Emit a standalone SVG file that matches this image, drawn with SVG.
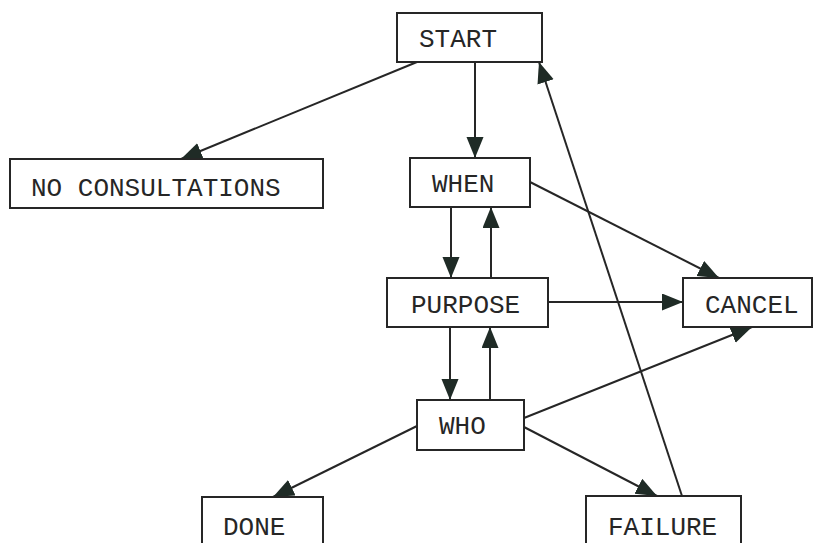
<svg xmlns="http://www.w3.org/2000/svg" width="817" height="543" viewBox="0 0 817 543">
  <style>
    .box { fill: #ffffff; stroke: #262626; stroke-width: 2; }
    .label { font-family: "Liberation Mono", "Courier New", monospace; font-size: 26px; fill: #262626; }
    .edge { fill: none; stroke: #262626; stroke-width: 2; marker-end: url(#arrow); }
  </style>
  <defs>
    <marker id="arrow" markerUnits="userSpaceOnUse" markerWidth="22" markerHeight="18" refX="21" refY="8.5" orient="auto">
      <path d="M0,0 L21,8.5 L0,17 z" fill="#1f2b26"/>
    </marker>
  </defs>
  <rect width="817" height="543" fill="#ffffff"/>

  <g id="connectors">
    <line class="edge" x1="417" y1="62" x2="181" y2="159"/>
    <line class="edge" x1="475" y1="62" x2="475" y2="158"/>
    <line class="edge" x1="451" y1="207" x2="451" y2="278"/>
    <line class="edge" x1="491" y1="278" x2="491" y2="207"/>
    <line class="edge" x1="530" y1="182" x2="719" y2="278"/>
    <line class="edge" x1="548" y1="302" x2="683" y2="302"/>
    <line class="edge" x1="450" y1="327" x2="450" y2="400"/>
    <line class="edge" x1="490" y1="400" x2="490" y2="327"/>
    <line class="edge" x1="524" y1="418" x2="752" y2="327"/>
    <line class="edge" x1="417" y1="426" x2="273" y2="497"/>
    <line class="edge" x1="524" y1="427" x2="657" y2="496"/>
    <line class="edge" x1="682" y1="496" x2="539" y2="62"/>
  </g>

  <g id="start">
    <rect class="box" x="397" y="13" width="145" height="49"/>
    <text class="label" x="419" y="47">START</text>
  </g>
  <g id="no-consultations">
    <rect class="box" x="10" y="159" width="313" height="49"/>
    <text class="label" x="31" y="196">NO CONSULTATIONS</text>
  </g>
  <g id="when">
    <rect class="box" x="410" y="158" width="120" height="49"/>
    <text class="label" x="432" y="192">WHEN</text>
  </g>
  <g id="purpose">
    <rect class="box" x="387" y="278" width="161" height="49"/>
    <text class="label" x="411" y="313">PURPOSE</text>
  </g>
  <g id="cancel">
    <rect class="box" x="683" y="278" width="129" height="49"/>
    <text class="label" x="705" y="313">CANCEL</text>
  </g>
  <g id="who">
    <rect class="box" x="417" y="400" width="107" height="50"/>
    <text class="label" x="439" y="434">WHO</text>
  </g>
  <g id="done">
    <rect class="box" x="202" y="497" width="121" height="60"/>
    <text class="label" x="223" y="535">DONE</text>
  </g>
  <g id="failure">
    <rect class="box" x="586" y="496" width="155" height="60"/>
    <text class="label" x="608" y="535">FAILURE</text>
  </g>
</svg>
